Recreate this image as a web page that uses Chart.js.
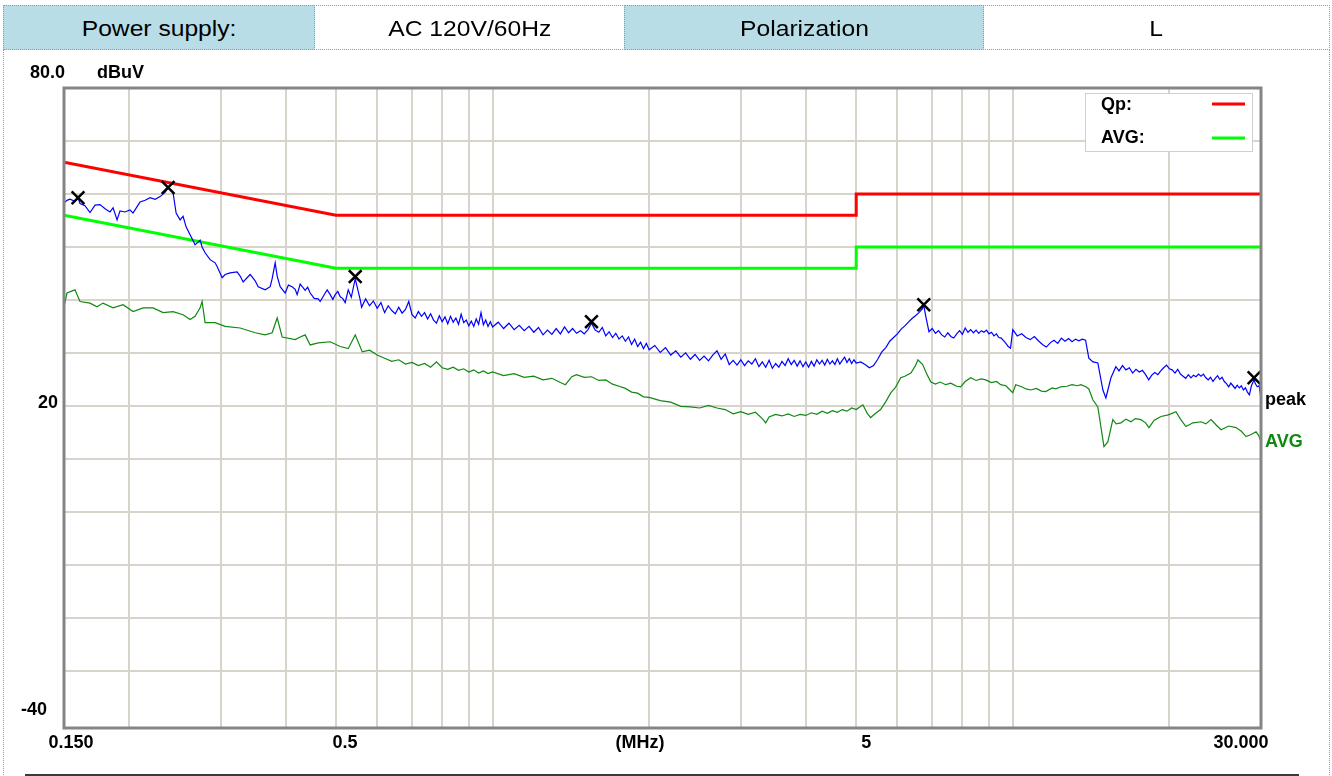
<!DOCTYPE html>
<html>
<head>
<meta charset="utf-8">
<title>Conducted emission - L</title>
<script src="https://cdn.jsdelivr.net/npm/chart.js@4.4.1/dist/chart.umd.min.js"></script>
<style>
  html, body { margin: 0; padding: 0; background: #fff; }
  body { width: 1332px; height: 776px; position: relative; overflow: hidden; font-family: "Liberation Sans", Arial, sans-serif; }
  #wrap { position: absolute; left: 0; top: 0; width: 1332px; height: 776px; }
  .hdr { position: absolute; top: 5px; height: 45px; box-sizing: border-box; border: 1px dotted #9a9a9a; padding-top: 3px;
         display: flex; align-items: center; justify-content: center; font-size: 22px; color: #000; z-index: 2; }
  .hdr span { display: inline-block; transform: scaleX(1.12); }
  .blue { background: #b8dde6; }
  #sides { position: absolute; left: 3px; top: 49px; width: 1327px; height: 730px; box-sizing: border-box;
           border-left: 1px dotted #9a9a9a; border-right: 1px dotted #9a9a9a; }
  #baseLine { position: absolute; left: 25px; top: 774px; width: 1274px; height: 2px; background: #3a3a3a; }
</style>
</head>
<body>
<div id="sides"></div>
<div id="baseLine"></div>
<div class="hdr blue" style="left:3px;width:312px;"><span>Power supply:</span></div>
<div class="hdr" style="left:314px;width:311px;"><span>AC 120V/60Hz</span></div>
<div class="hdr blue" style="left:624px;width:360px;"><span>Polarization</span></div>
<div class="hdr" style="left:983px;width:347px;"><span>L</span></div>
<div id="wrap"><canvas id="emiChart"></canvas></div>

<script>
// limit lines (MHz / dBuV)
const qpLimitFreq = [0.15, 0.5, 5, 5, 30];
const qpLimitLevel = [66, 56, 56, 60, 60];
const avgLimitFreq = [0.15, 0.5, 5, 5, 30];
const avgLimitLevel = [56, 46, 46, 50, 50];

// peak scan, [MHz, dBuV]
const peakScan = [
  [0.150, 58.3], [0.1520, 58.8], [0.1540, 59.0], [0.1575, 58.6], [0.1596, 59.3], [0.1610, 58.2], [0.1646, 57.8], [0.1683, 56.5],
  [0.1721, 57.9], [0.1759, 58.0], [0.1799, 57.2], [0.1839, 56.6], [0.1864, 57.4], [0.1897, 55.1], [0.1922, 56.8], [0.1965, 56.6],
  [0.2009, 57.0], [0.2036, 56.4], [0.2073, 57.6], [0.2100, 58.5], [0.2148, 58.8], [0.2196, 59.3], [0.2245, 59.0], [0.2295, 59.5],
  [0.2346, 60.3], [0.2378, 61.2], [0.2399, 60.8], [0.2431, 60.2], [0.2464, 56.4], [0.2508, 55.1], [0.2541, 55.8], [0.2575, 53.8],
  [0.2621, 52.3], [0.2680, 50.4], [0.2740, 51.3], [0.2764, 50.0], [0.2801, 48.9], [0.2864, 47.6], [0.2928, 47.0], [0.2954, 46.3],
  [0.3021, 44.2], [0.3061, 44.8], [0.3129, 45.1], [0.3228, 45.3], [0.3271, 44.5], [0.3315, 43.4], [0.3419, 44.8], [0.3496, 43.6],
  [0.3543, 42.5], [0.3654, 41.9], [0.3736, 42.5], [0.3769, 44.0], [0.3820, 47.0], [0.3854, 44.5], [0.3905, 42.5], [0.3993, 41.3],
  [0.405, 42.8], [0.4118, 42.5], [0.4173, 42.0], [0.421, 41.0], [0.4267, 43.0], [0.4362, 41.8], [0.441, 42.4], [0.4460, 41.3],
  [0.454, 40.3], [0.4621, 40.2], [0.4662, 39.7], [0.4767, 41.3], [0.4809, 41.9], [0.4873, 41.0], [0.493, 40.1], [0.4982, 41.0],
  [0.504, 41.6], [0.5094, 40.6], [0.515, 40.3], [0.5208, 39.5], [0.5278, 41.9], [0.535, 40.5], [0.5444, 44.0], [0.5566, 40.0],
  [0.56, 38.6], [0.57, 40.2], [0.58, 38.9], [0.59, 39.8], [0.60, 38.4], [0.61, 39.5], [0.62, 37.6], [0.63, 38.9],
  [0.64, 38.0], [0.65, 37.4], [0.66, 38.6], [0.67, 37.5], [0.68, 38.2], [0.69, 39.7], [0.70, 37.2], [0.71, 36.6],
  [0.72, 37.8], [0.73, 36.9], [0.74, 37.6], [0.75, 36.4], [0.76, 37.4], [0.77, 36.2], [0.78, 35.6], [0.79, 37.0],
  [0.80, 35.9], [0.81, 36.8], [0.82, 35.5], [0.83, 36.9], [0.84, 35.8], [0.85, 36.6], [0.86, 35.4], [0.87, 37.3],
  [0.88, 35.7], [0.89, 36.2], [0.90, 35.1], [0.91, 36.0], [0.92, 35.0], [0.93, 36.4], [0.94, 35.4], [0.95, 37.6],
  [0.96, 35.3], [0.97, 36.2], [0.98, 35.0], [0.99, 35.9], [1.00, 34.9], [1.025, 35.8], [1.05, 34.6], [1.075, 35.6],
  [1.10, 34.4], [1.125, 35.2], [1.15, 34.2], [1.175, 35.0], [1.20, 33.9], [1.225, 34.8], [1.25, 33.4], [1.275, 34.3],
  [1.30, 33.5], [1.325, 34.6], [1.35, 33.6], [1.375, 34.9], [1.40, 33.8], [1.425, 34.6], [1.45, 33.7], [1.475, 34.2],
  [1.50, 33.6], [1.525, 34.4], [1.549, 35.6], [1.575, 34.3], [1.60, 33.9], [1.625, 34.8], [1.65, 33.2], [1.675, 34.0],
  [1.70, 32.9], [1.725, 33.7], [1.75, 32.6], [1.775, 33.2], [1.80, 32.2], [1.825, 33.0], [1.85, 31.6], [1.875, 32.6],
  [1.90, 31.2], [1.925, 32.0], [1.95, 30.8], [1.975, 31.8], [2.00, 30.6], [2.05, 31.4], [2.10, 30.1], [2.15, 31.0],
  [2.20, 29.6], [2.25, 30.4], [2.30, 29.2], [2.35, 30.0], [2.40, 28.8], [2.45, 29.7], [2.50, 28.6], [2.55, 29.4],
  [2.60, 28.5], [2.65, 29.6], [2.70, 30.4], [2.75, 28.8], [2.80, 29.8], [2.85, 27.8], [2.90, 28.6], [2.95, 27.7],
  [3.00, 28.7], [3.05, 27.6], [3.10, 28.5], [3.15, 27.9], [3.20, 28.9], [3.25, 27.4], [3.30, 28.3], [3.35, 27.3],
  [3.40, 28.6], [3.45, 27.1], [3.50, 28.0], [3.55, 27.3], [3.60, 28.4], [3.65, 27.6], [3.70, 28.9], [3.75, 27.8],
  [3.80, 28.6], [3.85, 27.5], [3.90, 28.5], [3.95, 27.4], [4.00, 28.3], [4.05, 27.3], [4.10, 28.4], [4.15, 27.5],
  [4.20, 28.7], [4.25, 27.9], [4.30, 28.6], [4.35, 27.7], [4.40, 28.8], [4.45, 27.9], [4.50, 28.5], [4.55, 27.8],
  [4.60, 28.9], [4.65, 27.9], [4.70, 28.6], [4.75, 29.2], [4.80, 28.2], [4.85, 28.9], [4.90, 28.0], [4.95, 28.7],
  [5.00, 28.1], [5.1, 28.3], [5.2, 27.8], [5.3, 27.2], [5.4, 27.6], [5.5, 28.8], [5.6, 30.2], [5.7, 31.0],
  [5.8, 32.2], [5.9, 32.9], [6.0, 33.6], [6.1, 34.5], [6.2, 35.1], [6.3, 35.8], [6.4, 36.5], [6.5, 37.0],
  [6.6, 37.6], [6.7, 38.3], [6.743, 39.0], [6.8, 37.0], [6.9, 34.0], [7.0, 34.6], [7.1, 33.7], [7.2, 34.2],
  [7.3, 33.4], [7.4, 33.0], [7.5, 33.8], [7.6, 33.1], [7.7, 32.8], [7.8, 33.6], [7.9, 34.2], [8.0, 33.5],
  [8.1, 34.7], [8.2, 33.9], [8.3, 34.4], [8.4, 33.8], [8.5, 34.3], [8.6, 33.7], [8.7, 34.2], [8.8, 33.9],
  [8.9, 34.3], [9.0, 33.6], [9.1, 33.9], [9.2, 33.2], [9.3, 33.6], [9.4, 32.9], [9.5, 32.8], [9.6, 32.3],
  [9.7, 31.8], [9.8, 31.2], [9.9, 30.9], [10.0, 34.4], [10.2, 33.2], [10.4, 33.6], [10.6, 32.9], [10.8, 32.5],
  [11.0, 33.1], [11.2, 32.3], [11.4, 31.6], [11.6, 31.1], [11.8, 31.9], [12.0, 32.4], [12.2, 31.8], [12.4, 32.8],
  [12.6, 32.2], [12.8, 32.7], [13.0, 32.1], [13.2, 32.6], [13.4, 32.3], [13.6, 32.6], [13.8, 32.4], [14.0, 29.0],
  [14.26, 28.3], [14.57, 28.1], [14.90, 23.0], [15.10, 21.5], [15.44, 25.3], [15.78, 27.4], [16.00, 26.6], [16.25, 27.6],
  [16.50, 26.8], [16.75, 27.2], [17.00, 26.2], [17.25, 26.9], [17.50, 26.4], [17.75, 26.7], [18.00, 25.9], [18.25, 24.9],
  [18.50, 25.8], [18.75, 26.3], [19.00, 25.9], [19.25, 26.6], [19.50, 27.2], [19.75, 27.7], [20.00, 27.0], [20.25, 26.8],
  [20.50, 26.2], [20.75, 26.9], [21.00, 26.0], [21.25, 25.6], [21.50, 25.2], [21.75, 25.9], [22.00, 25.3], [22.25, 25.8],
  [22.50, 25.5], [22.75, 26.0], [23.00, 25.6], [23.25, 26.0], [23.50, 25.3], [23.75, 24.9], [24.00, 25.4], [24.25, 24.6],
  [24.50, 25.2], [24.75, 25.7], [25.00, 25.0], [25.25, 25.4], [25.50, 24.6], [25.75, 24.2], [26.00, 23.6], [26.25, 24.3],
  [26.50, 23.8], [26.75, 23.3], [27.00, 23.9], [27.25, 23.4], [27.50, 23.8], [27.75, 23.0], [28.00, 23.4], [28.25, 22.6],
  [28.50, 22.1], [28.75, 23.8], [29.00, 24.6], [29.09, 25.0], [29.25, 24.2], [29.50, 23.6], [29.75, 23.8], [30.00, 21.5]
];

// average scan, [MHz, dBuV]
const avgScan = [
  [0.150, 38.7], [0.1520, 41.3], [0.1575, 41.9], [0.1610, 39.7], [0.1683, 39.4], [0.1736, 38.7], [0.1783, 39.4], [0.1864, 38.5],
  [0.1948, 39.1], [0.2036, 37.8], [0.2129, 38.5], [0.2225, 38.5], [0.2326, 37.6], [0.2431, 37.8], [0.2541, 37.2], [0.2621, 36.3],
  [0.2680, 36.9], [0.2740, 38.5], [0.2764, 39.7], [0.2801, 35.7], [0.2928, 35.7], [0.3061, 35.0], [0.3271, 34.7], [0.3496, 33.8],
  [0.3654, 33.4], [0.3769, 33.8], [0.3854, 36.6], [0.3940, 33.0], [0.4173, 32.5], [0.4267, 33.0], [0.4362, 33.4], [0.4460, 31.5],
  [0.4621, 31.9], [0.4873, 32.1], [0.5094, 31.2], [0.5278, 30.8], [0.5444, 33.4], [0.5616, 30.2], [0.58, 30.5], [0.60, 29.6],
  [0.62, 29.0], [0.64, 28.4], [0.66, 28.7], [0.68, 27.9], [0.70, 28.2], [0.72, 27.6], [0.74, 28.0], [0.76, 27.3],
  [0.78, 28.3], [0.80, 27.2], [0.82, 26.9], [0.84, 27.3], [0.86, 26.7], [0.88, 27.0], [0.90, 26.4], [0.92, 26.8],
  [0.94, 26.2], [0.96, 26.6], [0.98, 26.1], [1.00, 26.4], [1.05, 25.7], [1.10, 26.1], [1.15, 25.4], [1.20, 25.6],
  [1.25, 24.9], [1.30, 25.2], [1.35, 24.4], [1.38, 24.0], [1.42, 25.5], [1.45, 25.9], [1.50, 25.4], [1.55, 25.5],
  [1.60, 24.8], [1.65, 24.9], [1.70, 24.1], [1.75, 23.7], [1.80, 23.3], [1.85, 22.6], [1.90, 22.4], [1.95, 21.7],
  [2.00, 21.6], [2.1, 21.0], [2.2, 20.7], [2.3, 19.9], [2.4, 19.8], [2.5, 19.6], [2.6, 20.1], [2.7, 19.6],
  [2.8, 19.3], [2.9, 18.5], [3.0, 18.9], [3.1, 18.4], [3.2, 18.8], [3.3, 17.6], [3.35, 16.8], [3.4, 17.9],
  [3.5, 18.4], [3.6, 18.1], [3.7, 18.5], [3.8, 18.0], [3.9, 18.4], [4.0, 18.2], [4.1, 18.7], [4.2, 18.4],
  [4.3, 19.0], [4.4, 18.6], [4.5, 19.1], [4.6, 18.8], [4.7, 19.3], [4.8, 19.0], [4.9, 19.6], [5.0, 19.3],
  [5.15, 20.2], [5.25, 18.6], [5.33, 17.8], [5.45, 18.6], [5.57, 19.3], [5.7, 20.8], [5.83, 22.5], [5.95, 23.5],
  [6.09, 25.3], [6.2, 25.6], [6.37, 26.2], [6.5, 27.6], [6.57, 28.7], [6.71, 27.8], [6.85, 25.8], [6.96, 24.5],
  [7.1, 24.1], [7.25, 24.5], [7.43, 24.0], [7.6, 24.3], [7.8, 23.7], [7.94, 23.6], [8.1, 24.6], [8.30, 25.3],
  [8.5, 24.8], [8.7, 25.1], [8.87, 24.9], [9.1, 24.4], [9.3, 24.6], [9.48, 24.0], [9.7, 23.8], [9.9, 22.9],
  [10.0, 22.5], [10.13, 24.0], [10.4, 23.6], [10.6, 23.2], [10.83, 23.0], [11.1, 23.3], [11.35, 22.8], [11.57, 22.7],
  [11.9, 23.4], [12.1, 23.2], [12.37, 23.6], [12.7, 23.7], [13.0, 24.0], [13.3, 23.8], [13.52, 24.0], [13.82, 23.6],
  [14.0, 23.2], [14.26, 21.1], [14.57, 19.8], [14.97, 12.3], [15.23, 13.2], [15.57, 17.4], [15.8, 16.6], [16.14, 16.8],
  [16.5, 17.5], [16.87, 17.0], [17.2, 17.6], [17.63, 17.4], [18.0, 16.8], [18.27, 15.9], [18.7, 17.3], [19.27, 18.0],
  [19.9, 18.3], [20.59, 18.9], [21.0, 17.5], [21.52, 16.1], [22.2, 16.8], [23.01, 17.0], [23.5, 16.6], [24.05, 17.4],
  [24.6, 16.4], [25.14, 15.5], [26.0, 16.2], [26.86, 15.9], [27.5, 15.2], [28.08, 14.2], [28.71, 14.6], [29.35, 15.1],
  [29.7, 14.4], [30.00, 13.2]
];

// marked peaks (x)
const markerFreq = [0.1596, 0.2378, 0.5444, 1.549, 6.743, 29.09];
const markerLevel = [59.3, 61.2, 44.4, 35.9, 39.1, 25.3];

// grid and labels
const gridFreqs = [0.2, 0.3, 0.4, 0.5, 0.6, 0.7, 0.8, 0.9, 1, 2, 3, 4, 5, 6, 7, 8, 9, 10, 20];
const gridLevels = [-30, -20, -10, 0, 10, 20, 30, 40, 50, 60, 70];
const xLabelFreqs = [0.15, 0.5, 1.92, 5, 30];
const xLabelTexts = ['0.150', '0.5', '(MHz)', '5', '30.000'];
const yLabelLevels = [20, -40];
const yLabelTexts = ['20', '-40'];
const legendLabels = ['Qp:', 'AVG:'];

const colors = {
  qp: '#ff0000',
  avgLimit: '#00ff00',
  peak: '#0000ff',
  avg: '#118811',
  grid: '#d8d4cc',
  frame: '#858585',
  text: '#000000'
};

function pairs(xs, ys) {
  return xs.map(function (x, i) { return { x: x, y: ys[i] }; });
}

function scanPoints(scan) {
  return scan.map(function (p) { return { x: p[0], y: p[1] }; });
}

const overlay = {
  id: 'overlay',
  afterDatasetsDraw: function (chart) {
    const ctx = chart.ctx;
    const a = chart.chartArea;
    const xs = chart.scales.x;
    const ys = chart.scales.y;
    ctx.save();

    // plot frame
    ctx.strokeStyle = colors.frame;
    ctx.lineWidth = 3;
    ctx.strokeRect(a.left, a.top, a.right - a.left, a.bottom - a.top);

    ctx.font = 'bold 18px "Liberation Sans", Arial, sans-serif';
    ctx.fillStyle = colors.text;
    ctx.textBaseline = 'middle';

    // y labels
    ctx.textAlign = 'left';
    ctx.fillText('80.0', 30, a.top - 15);
    ctx.fillText('dBuV', 97, a.top - 15);
    ctx.textAlign = 'right';
    ctx.fillText(yLabelTexts[0], 58, ys.getPixelForValue(yLabelLevels[0]) - 3);
    ctx.fillText(yLabelTexts[1], 47, a.bottom - 18);

    // x labels
    ctx.textAlign = 'center';
    const xOff = [7, 9, 0, 10, -20];
    xLabelFreqs.forEach(function (f, i) {
      ctx.fillText(xLabelTexts[i], xs.getPixelForValue(f) + xOff[i], a.bottom + 15);
    });

    // trace names at right edge
    ctx.textAlign = 'left';
    ctx.fillText('peak', a.right + 4, 400);
    ctx.fillStyle = colors.avg;
    ctx.fillText('AVG', a.right + 4, 442);

    // legend box
    const lx = a.right - 176, ly = a.top + 5;
    ctx.fillStyle = '#ffffff';
    ctx.fillRect(lx, ly, 167, 58);
    ctx.strokeStyle = '#d0d0d0';
    ctx.lineWidth = 1;
    ctx.strokeRect(lx + 0.5, ly + 0.5, 167, 58);
    ctx.fillStyle = colors.text;
    ctx.fillText(legendLabels[0], lx + 16, ly + 12);
    ctx.fillText(legendLabels[1], lx + 16, ly + 45);
    ctx.lineWidth = 3;
    ctx.strokeStyle = colors.qp;
    ctx.beginPath(); ctx.moveTo(lx + 127, ly + 11); ctx.lineTo(lx + 160, ly + 11); ctx.stroke();
    ctx.strokeStyle = colors.avgLimit;
    ctx.beginPath(); ctx.moveTo(lx + 127, ly + 45); ctx.lineTo(lx + 160, ly + 45); ctx.stroke();

    ctx.restore();
  }
};

new Chart(document.getElementById('emiChart'), {
  type: 'line',
  data: {
    datasets: [
      {
        type: 'scatter',
        label: 'marks',
        data: pairs(markerFreq, markerLevel),
        pointStyle: 'crossRot',
        pointRadius: 9,
        borderColor: '#000',
        borderWidth: 2.5,
        order: 0
      },
      {
        label: 'peak',
        data: scanPoints(peakScan),
        borderColor: colors.peak,
        borderWidth: 1.2,
        pointRadius: 0,
        tension: 0,
        order: 1
      },
      {
        label: 'AVG',
        data: scanPoints(avgScan),
        borderColor: colors.avg,
        borderWidth: 1.2,
        pointRadius: 0,
        tension: 0,
        order: 2
      },
      {
        label: 'Qp limit',
        data: pairs(qpLimitFreq, qpLimitLevel),
        borderColor: colors.qp,
        borderWidth: 3,
        pointRadius: 0,
        order: 3
      },
      {
        label: 'AVG limit',
        data: pairs(avgLimitFreq, avgLimitLevel),
        borderColor: colors.avgLimit,
        borderWidth: 3,
        pointRadius: 0,
        order: 4
      }
    ]
  },
  options: {
    responsive: true,
    maintainAspectRatio: false,
    animation: false,
    layout: { padding: { left: 64, right: 71, top: 88, bottom: 48 } },
    plugins: { legend: { display: false }, tooltip: { enabled: false } },
    scales: {
      x: {
        type: 'logarithmic',
        min: 0.15,
        max: 30,
        afterBuildTicks: function (s) { s.ticks = gridFreqs.map(function (v) { return { value: v }; }); },
        afterFit: function (s) { s.height = 0; },
        grid: { color: colors.grid, lineWidth: 2, drawTicks: false },
        border: { display: false },
        ticks: { display: false }
      },
      y: {
        min: -40.8,
        max: 80,
        afterBuildTicks: function (s) { s.ticks = gridLevels.map(function (v) { return { value: v }; }); },
        afterFit: function (s) { s.width = 0; },
        grid: { color: colors.grid, lineWidth: 2, drawTicks: false },
        border: { display: false },
        ticks: { display: false }
      }
    }
  },
  plugins: [overlay]
});
</script>
</body>
</html>
